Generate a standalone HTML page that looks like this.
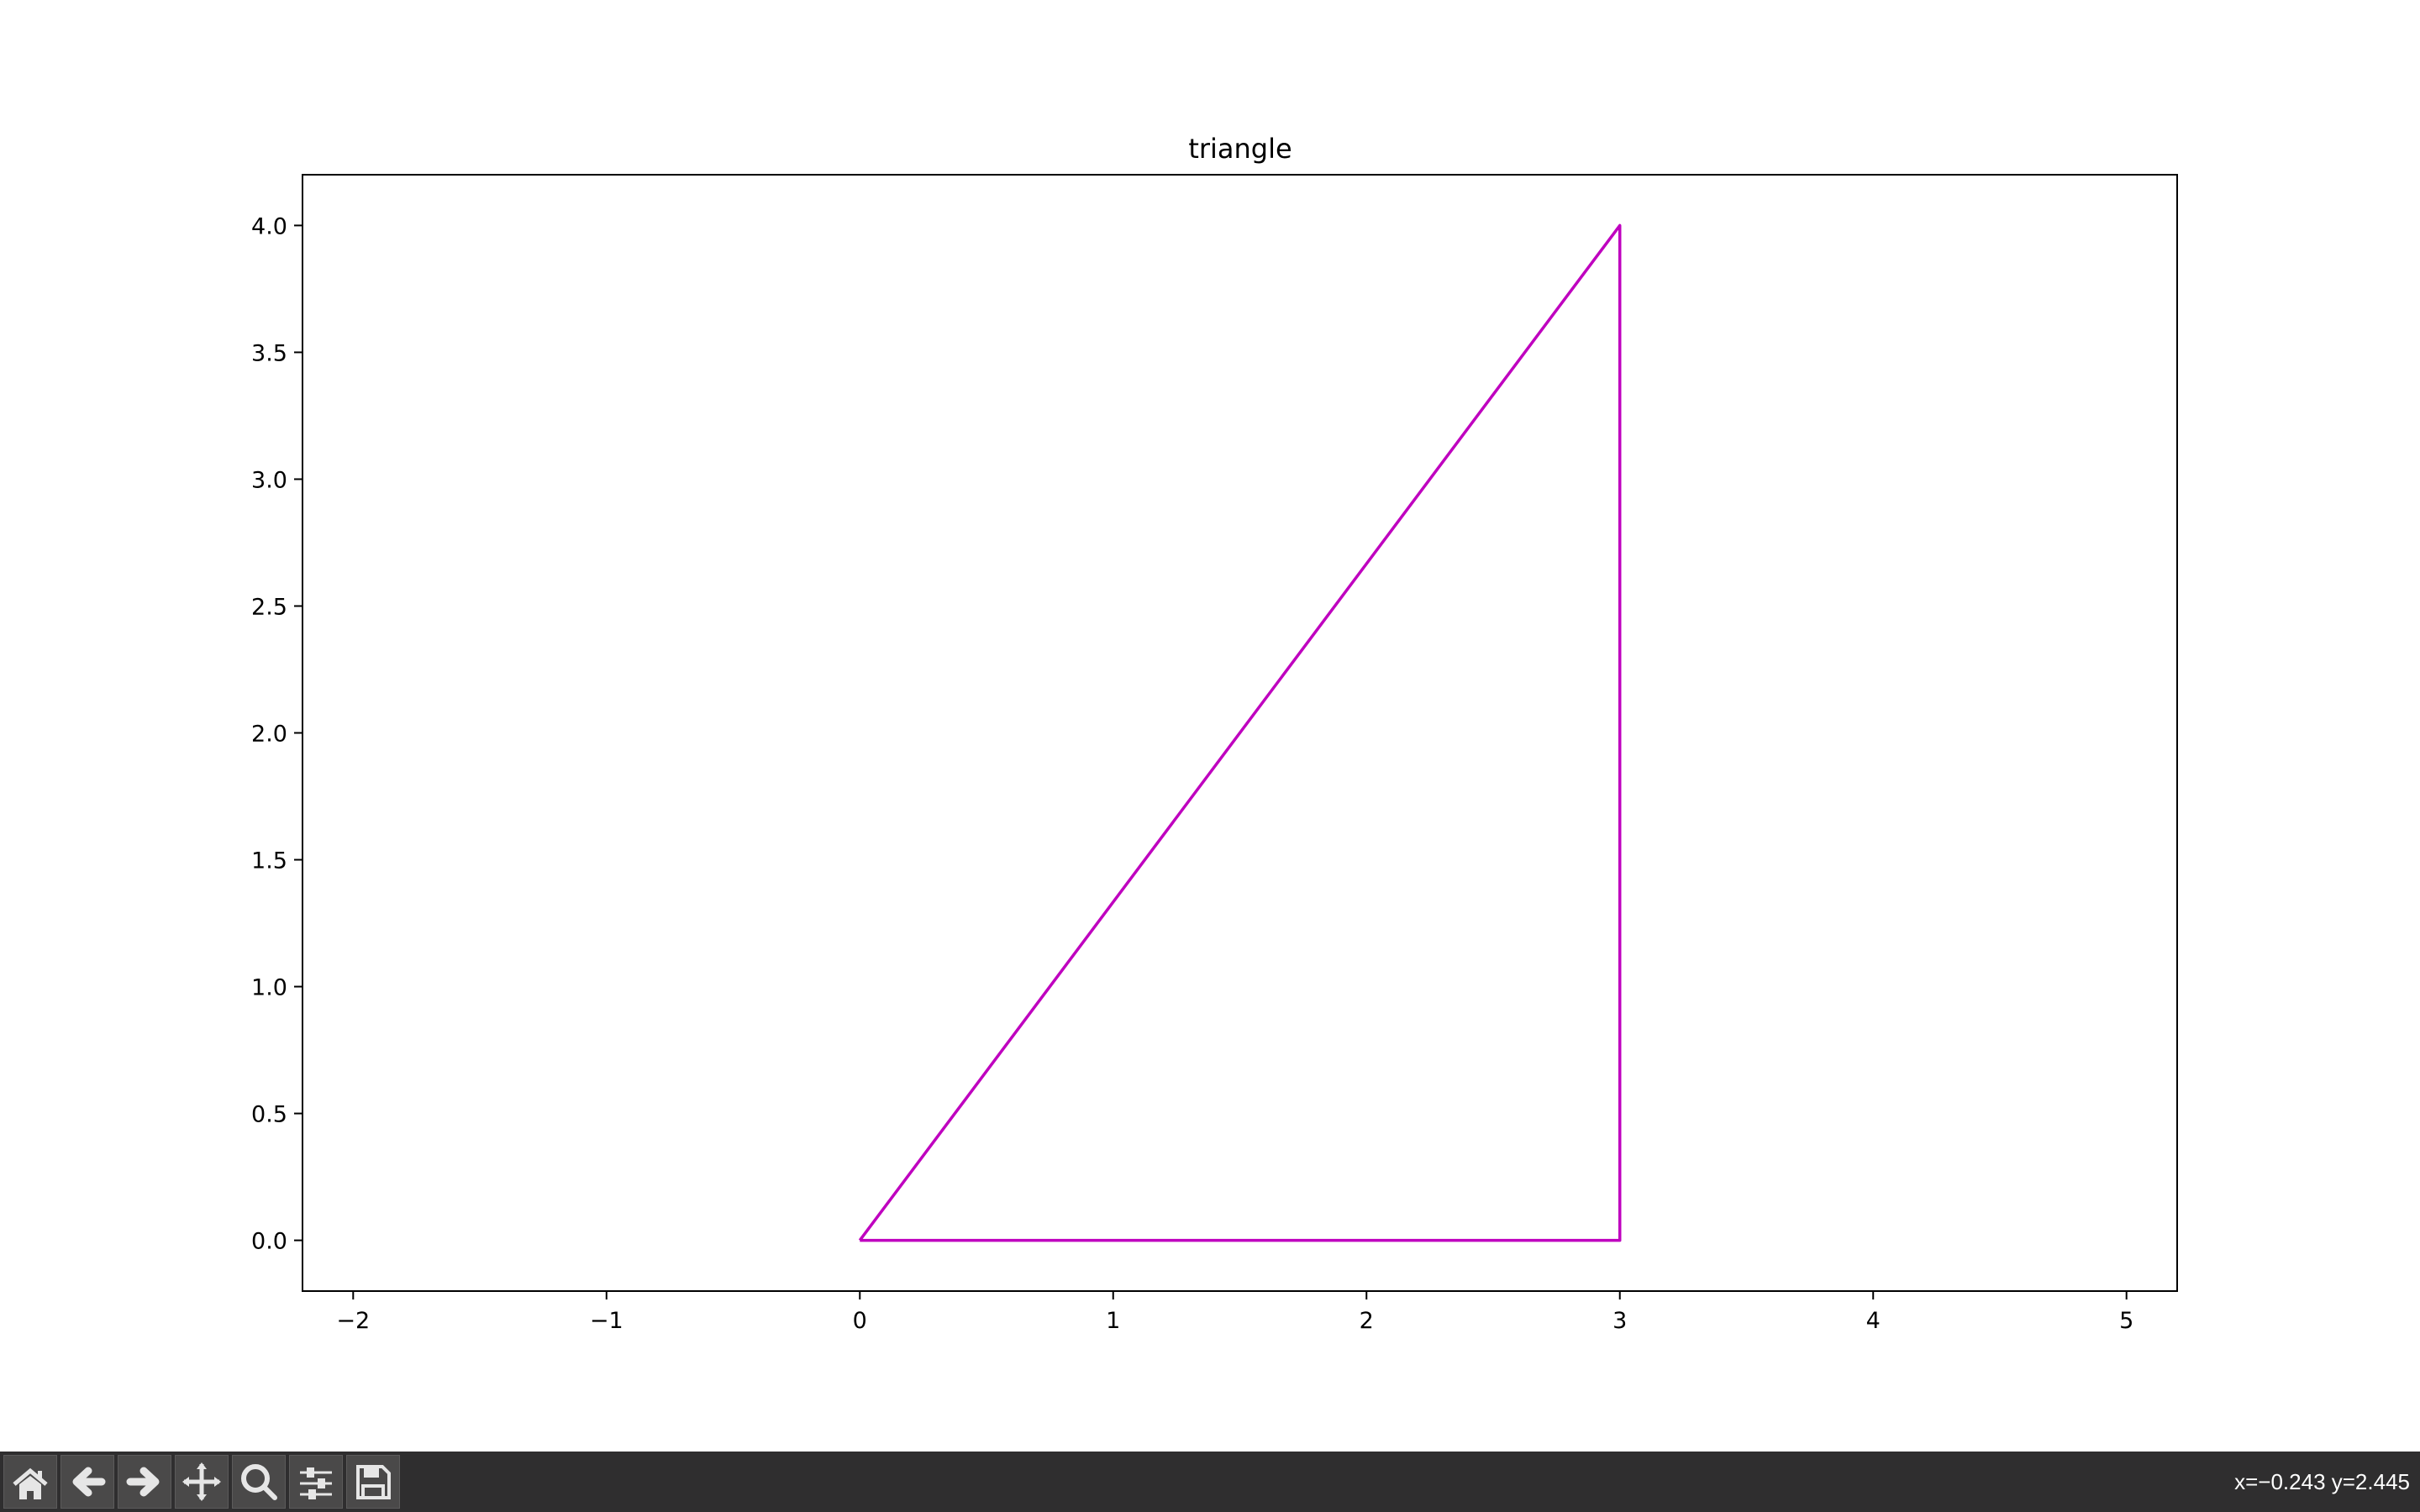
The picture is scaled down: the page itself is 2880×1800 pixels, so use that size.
<!DOCTYPE html>
<html><head><meta charset="utf-8"><style>
html,body{margin:0;padding:0;background:#fff;width:2880px;height:1800px;overflow:hidden;font-family:"DejaVu Sans","Liberation Sans",sans-serif}
#toolbar{position:absolute;left:0;top:1728px;width:2880px;height:72px;background:#2f2e2f;overflow:hidden}
.btn{position:absolute;top:4px;width:62px;height:62px;background:#4a4949;border:1px solid #5c5b5b}
#status{position:absolute;right:12px;top:21px;color:#fff;font-size:26px;line-height:30px;font-family:"Liberation Sans",sans-serif;white-space:nowrap}
</style></head><body>
<svg id="chart" width="2880" height="1728" style="position:absolute;left:0;top:0">
<text x="1476" y="188" text-anchor="middle" font-size="32" fill="#000">triangle</text>
<g id="axes"></g>
</svg>
<div id="toolbar">
 <div class="btn" style="left:4px"><svg width="62" height="62"><path d="M12 34 L31 18 L50 34" stroke="#e6e6e6" stroke-width="5" fill="none"/><path d="M18 34 L31 24 L44 34 V52 H35 V42 H27 V52 H18Z" fill="#e6e6e6"/><rect x="40" y="18" width="5" height="10" fill="#e6e6e6"/></svg></div>
 <div class="btn" style="left:72px"><svg width="62" height="62"><path d="M48 31 H20 M32 18 L18 31 L32 44" stroke="#e6e6e6" stroke-width="9" fill="none" stroke-linecap="round" stroke-linejoin="round"/></svg></div>
 <div class="btn" style="left:140px"><svg width="62" height="62"><path d="M14 31 H42 M30 18 L44 31 L30 44" stroke="#e6e6e6" stroke-width="9" fill="none" stroke-linecap="round" stroke-linejoin="round"/></svg></div>
 <div class="btn" style="left:208px"><svg width="62" height="62"><path d="M31 10 V52 M10 31 H52" stroke="#e6e6e6" stroke-width="5"/><path d="M31 8 L25 16 H37Z M31 54 L25 46 H37Z M8 31 L16 25 V37Z M54 31 L46 25 V37Z" fill="#e6e6e6"/></svg></div>
 <div class="btn" style="left:276px"><svg width="62" height="62"><circle cx="27" cy="27" r="14" stroke="#e6e6e6" stroke-width="6" fill="none"/><path d="M37 37 L50 50" stroke="#e6e6e6" stroke-width="6" stroke-linecap="round"/></svg></div>
 <div class="btn" style="left:344px"><svg width="62" height="62"><path d="M12 20 H50 M12 33 H50 M12 46 H50" stroke="#e6e6e6" stroke-width="3"/><rect x="20" y="14" width="9" height="12" fill="#e6e6e6"/><rect x="33" y="27" width="9" height="12" fill="#e6e6e6"/><rect x="22" y="40" width="9" height="12" fill="#e6e6e6"/></svg></div>
 <div class="btn" style="left:412px"><svg width="62" height="62"><path d="M13 13 H42 L50 21 V50 H13Z" stroke="#e6e6e6" stroke-width="4" fill="none"/><rect x="20" y="13" width="18" height="13" fill="#e6e6e6"/><rect x="19" y="36" width="24" height="14" stroke="#e6e6e6" stroke-width="4" fill="none"/></svg></div>
 <div id="status">x=−0.243 y=2.445</div>
</div>
<script>
const xs = [0, 3, 3, 0];
const ys = [0, 4, 0, 0];
const xTicks = [-2, -1, 0, 1, 2, 3, 4, 5];
const xTickLabels = ["−2", "−1", "0", "1", "2", "3", "4", "5"];
const yTicks = [0, 0.5, 1, 1.5, 2, 2.5, 3, 3.5, 4];
const yTickLabels = ["0.0", "0.5", "1.0", "1.5", "2.0", "2.5", "3.0", "3.5", "4.0"];
const xDomain = [-2.2, 5.2];
const yDomain = [-0.2, 4.2];

const L = 360, R = 2591, T = 208, B = 1537;
const sx = v => L + (v - xDomain[0]) / (xDomain[1] - xDomain[0]) * (R - L);
const sy = v => B - (v - yDomain[0]) / (yDomain[1] - yDomain[0]) * (B - T);
const NS = "http://www.w3.org/2000/svg";
const g = document.getElementById('axes');
function mk(tag, attrs) { const e = document.createElementNS(NS, tag); for (const k in attrs) e.setAttribute(k, attrs[k]); g.appendChild(e); return e; }

const pts = xs.map((x, i) => sx(x) + ',' + sy(ys[i])).join(' ');
const line = mk('polyline', { points: pts, fill: 'none', stroke: '#bf00bf', 'stroke-width': 3.5, 'stroke-linejoin': 'round' });



xTicks.forEach((t, i) => {
  const x = sx(t);
  const tk = mk('line', { x1: x, x2: x, y1: B, y2: B + 10, stroke: '#000', 'stroke-width': 2 });
  
  
  const lb = mk('text', { x: x, y: B + 44, 'text-anchor': 'middle', 'font-size': 27, fill: '#000' });
  lb.textContent = xTickLabels[i];
  
  
});
yTicks.forEach((t, i) => {
  const y = sy(t);
  const tk = mk('line', { x1: L - 10, x2: L, y1: y, y2: y, stroke: '#000', 'stroke-width': 2 });
  
  
  const lb = mk('text', { x: L - 18, y: y + 10, 'text-anchor': 'end', 'font-size': 27, fill: '#000' });
  lb.textContent = yTickLabels[i];
  
  
});
const frame = mk('rect', { x: L, y: T, width: R - L, height: B - T, fill: 'none', stroke: '#000', 'stroke-width': 2 });


</script>
</body></html>
